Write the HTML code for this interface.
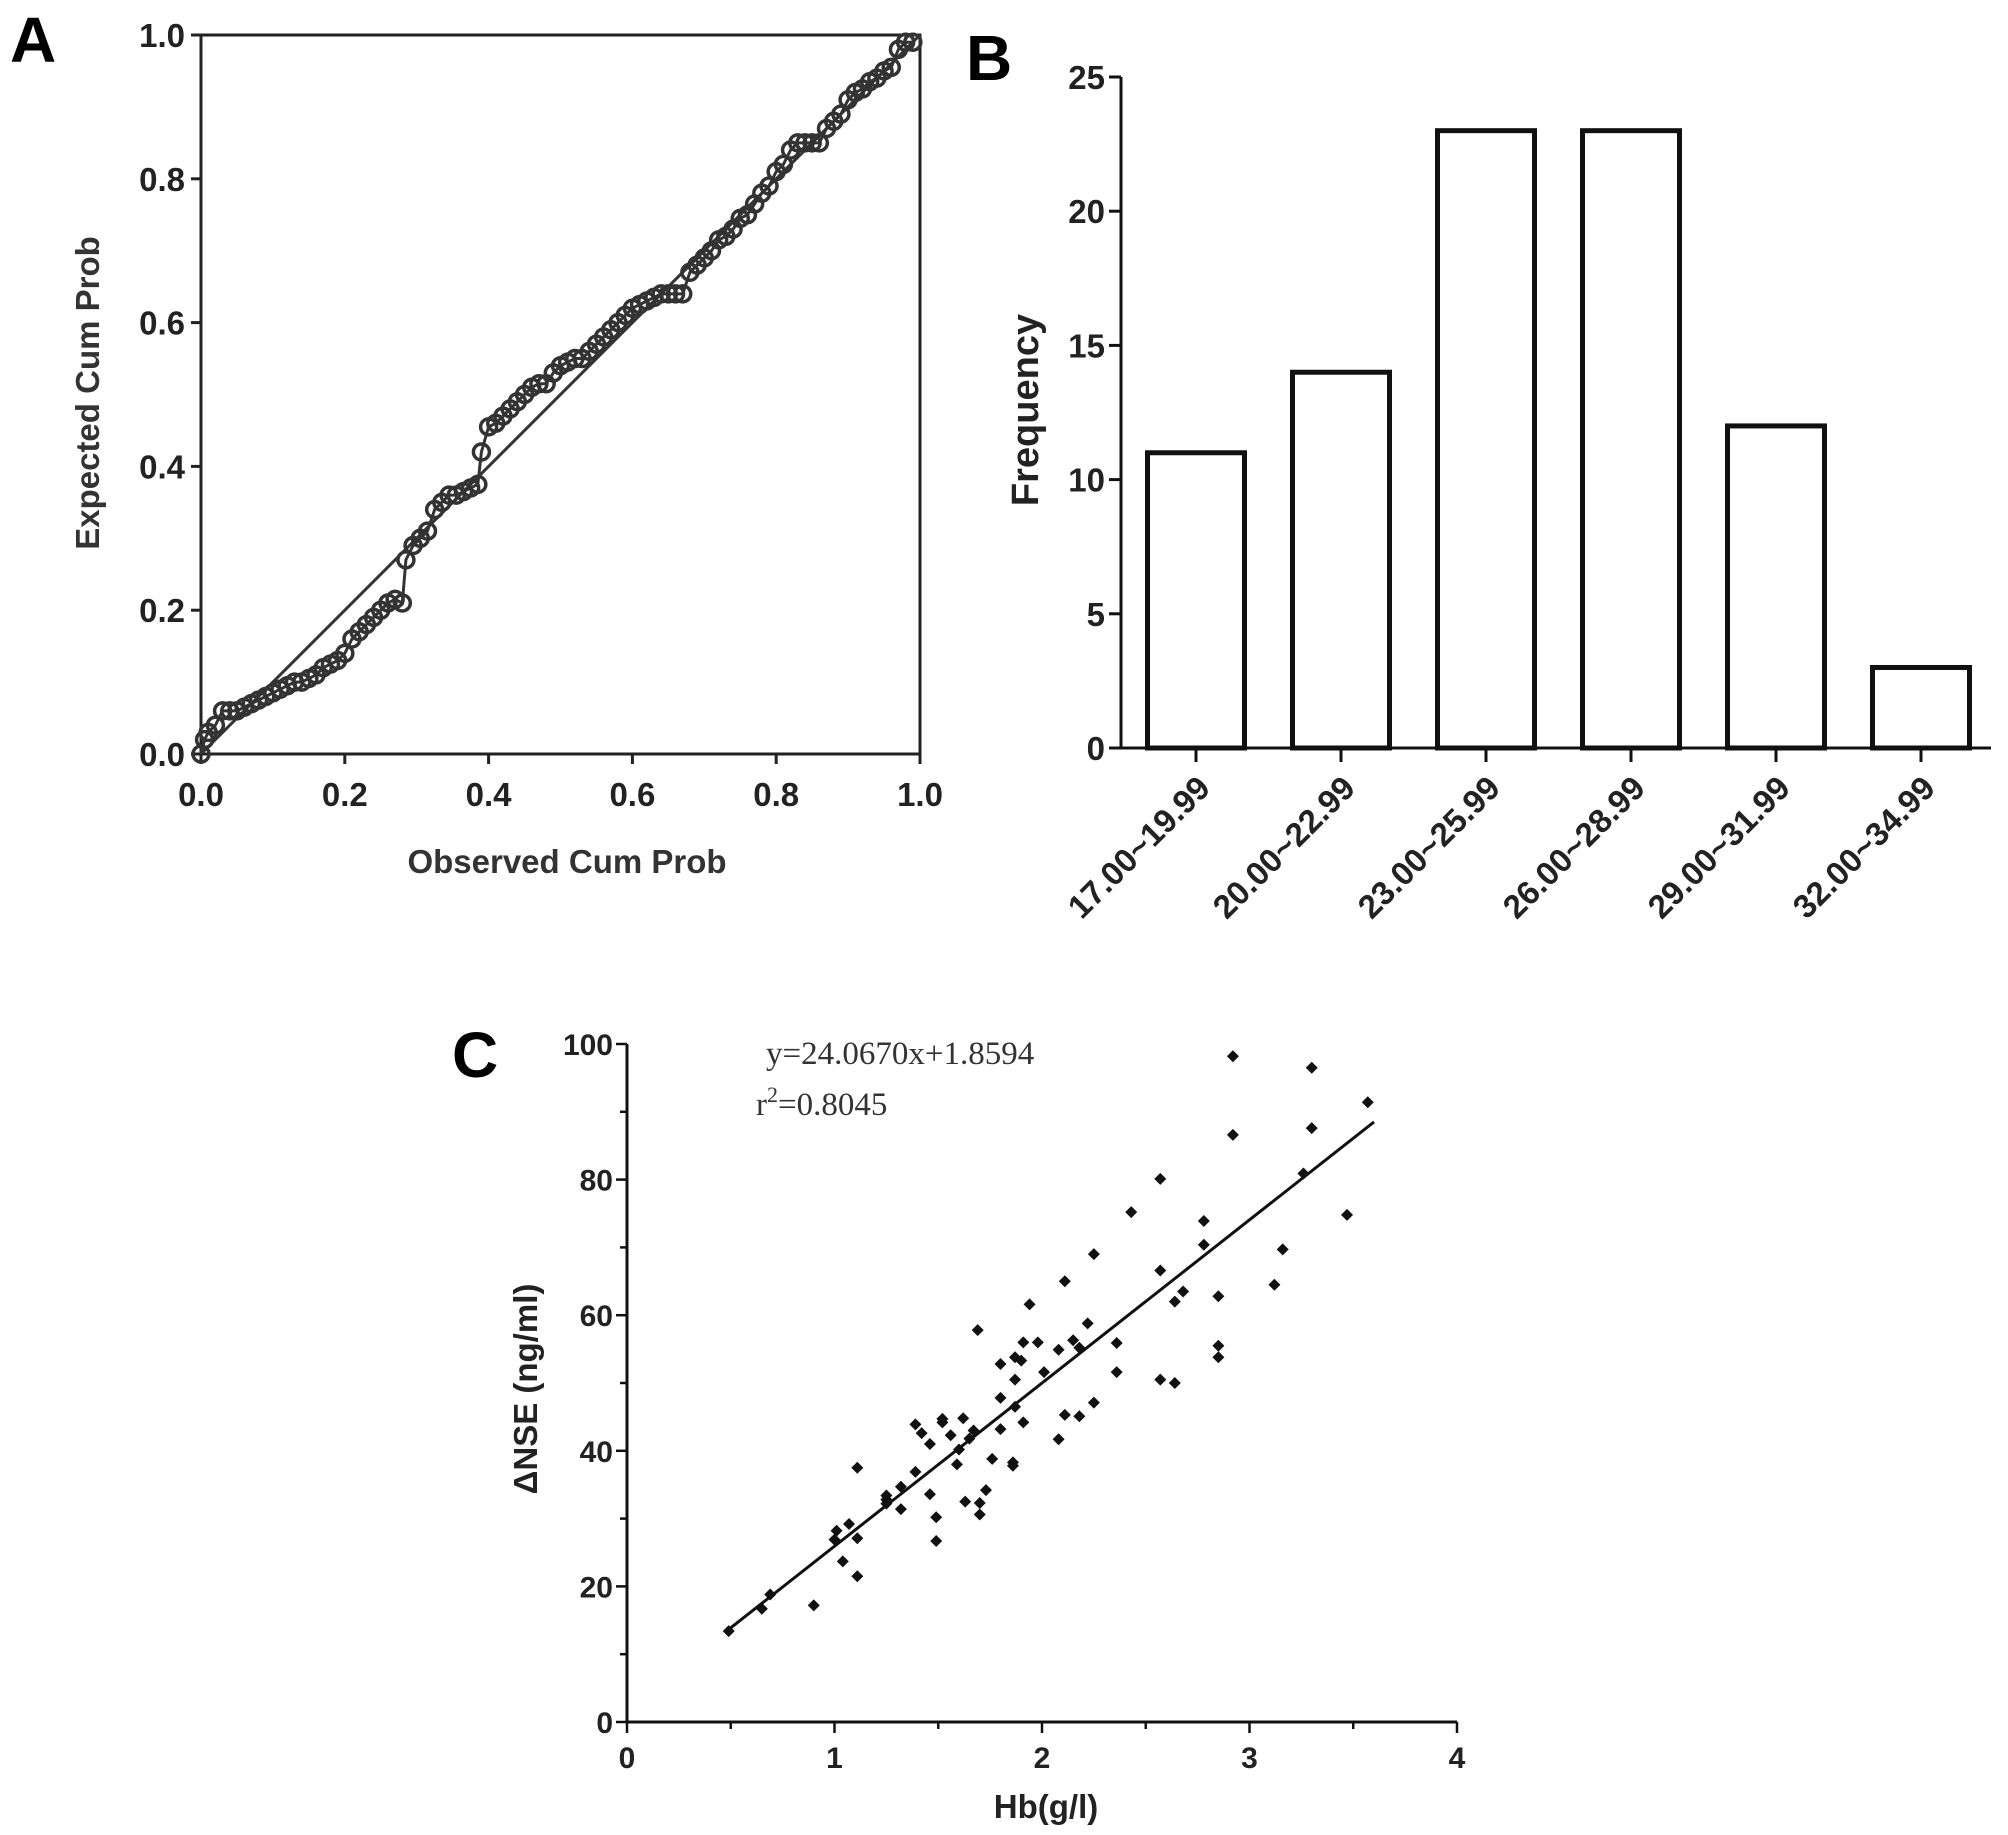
<!DOCTYPE html>
<html><head><meta charset="utf-8"><style>
html,body{margin:0;padding:0;background:#fff;}
svg{display:block;font-family:"Liberation Sans",Arial,sans-serif;}
</style></head><body>
<svg id="fig" width="2008" height="1835" viewBox="0 0 2008 1835" xmlns="http://www.w3.org/2000/svg">
<g id="pa"></g>
<g id="pb"></g>
<g id="pc"></g>
</svg>
<script>
// Panel A data (P-P plot)
const ppObserved = [0,0.005,0.01,0.02,0.03,0.04,0.05,0.06,0.07,0.08,0.09,0.10,0.11,0.12,0.13,0.14,0.15,0.16,0.17,0.18,0.19,0.20,0.21,0.22,0.23,0.24,0.25,0.26,0.27,0.28,0.285,0.295,0.305,0.315,0.325,0.335,0.345,0.355,0.365,0.375,0.385,0.39,0.40,0.41,0.42,0.43,0.44,0.45,0.46,0.47,0.48,0.49,0.50,0.51,0.52,0.53,0.54,0.55,0.56,0.57,0.58,0.59,0.60,0.61,0.62,0.63,0.64,0.65,0.66,0.67,0.68,0.69,0.70,0.71,0.72,0.73,0.74,0.75,0.76,0.77,0.78,0.79,0.80,0.81,0.82,0.83,0.84,0.85,0.86,0.87,0.88,0.89,0.90,0.91,0.92,0.93,0.94,0.95,0.96,0.97,0.98,0.99];
const ppExpected = [0.0,0.02,0.03,0.04,0.06,0.06,0.06,0.065,0.07,0.075,0.08,0.085,0.09,0.095,0.10,0.10,0.105,0.11,0.12,0.125,0.13,0.14,0.16,0.17,0.18,0.19,0.20,0.21,0.215,0.21,0.27,0.29,0.30,0.31,0.34,0.35,0.36,0.36,0.365,0.37,0.375,0.42,0.455,0.46,0.47,0.48,0.49,0.50,0.51,0.515,0.515,0.53,0.54,0.545,0.55,0.55,0.56,0.57,0.58,0.59,0.60,0.61,0.62,0.625,0.63,0.635,0.64,0.64,0.64,0.64,0.67,0.68,0.69,0.70,0.715,0.72,0.73,0.745,0.75,0.765,0.78,0.79,0.81,0.82,0.84,0.85,0.85,0.85,0.85,0.87,0.88,0.89,0.91,0.92,0.925,0.935,0.94,0.95,0.955,0.98,0.99,0.99];
const ppTicks = [0,0.2,0.4,0.6,0.8,1.0];
const ppTickLabels = ["0.0","0.2","0.4","0.6","0.8","1.0"];
// Panel B data
const histCategories = ["17.00~19.99","20.00~22.99","23.00~25.99","26.00~28.99","29.00~31.99","32.00~34.99"];
const histValues = [11,14,23,23,12,3];
const histTicks = [0,5,10,15,20,25];
// Panel C data
const hbValues = [0.49,0.65,0.69,0.90,1.00,1.01,1.04,1.07,1.11,1.11,1.11,1.25,1.25,1.25,1.32,1.32,1.39,1.39,1.42,1.46,1.46,1.49,1.49,1.52,1.52,1.56,1.59,1.60,1.62,1.63,1.65,1.67,1.69,1.70,1.70,1.73,1.76,1.80,1.80,1.80,1.86,1.86,1.87,1.87,1.87,1.90,1.91,1.91,1.94,1.98,2.01,2.08,2.08,2.11,2.11,2.15,2.18,2.18,2.22,2.25,2.25,2.36,2.36,2.43,2.57,2.57,2.57,2.64,2.64,2.68,2.78,2.78,2.85,2.85,2.85,2.92,2.92,3.12,3.16,3.26,3.30,3.30,3.47,3.57];
const nseValues = [13.4,16.7,18.8,17.2,26.9,28.2,23.7,29.2,37.5,27.1,21.5,32.8,33.4,32.2,34.7,31.4,36.9,43.9,42.6,41.0,33.6,30.2,26.7,44.7,44.2,42.3,38.0,40.2,44.8,32.5,41.8,43.0,57.8,32.3,30.6,34.2,38.8,52.8,47.8,43.2,38.3,37.8,50.5,46.5,53.8,53.3,56.0,44.2,61.6,56.0,51.6,54.9,41.7,65.0,45.3,56.3,55.2,45.1,58.8,69.0,47.1,55.9,51.6,75.2,80.1,66.6,50.5,62.0,50.0,63.5,73.9,70.4,62.8,55.5,53.8,98.2,86.6,64.5,69.7,80.9,96.5,87.6,74.8,91.4];
const regSlope = 24.067, regIntercept = 1.8594;
const regRange = [0.49,3.6];
const cxTicks = [0,1,2,3,4];
const cyTicks = [0,20,40,60,80,100];

const NS="http://www.w3.org/2000/svg";
function mk(parent,tag,attrs,text){const e=document.createElementNS(NS,tag);for(const k in attrs)e.setAttribute(k,attrs[k]);if(text!==undefined)e.textContent=text;parent.appendChild(e);return e;}

// ---------- Panel A ----------
(function(){
const g=document.getElementById('pa');
const L=201,R=920,T=35,B=754;
const sx=v=>L+v*(R-L), sy=v=>B-v*(B-T);
let t=mk(g,'text',{x:10,y:62,'font-size':64,'font-weight':'bold'},'A');


let fr=mk(g,'rect',{x:L,y:T,width:R-L,height:B-T,fill:'none',stroke:'#222','stroke-width':3});


ppTicks.forEach((v,i)=>{
  mk(g,'line',{x1:L-10,x2:L,y1:sy(v),y2:sy(v),stroke:'#222','stroke-width':3});
  mk(g,'line',{x1:sx(v),x2:sx(v),y1:B,y2:B+10,stroke:'#222','stroke-width':3});
  let yl=mk(g,'text',{x:L-16,y:sy(v)+12,'text-anchor':'end','font-size':33,'font-weight':'bold',fill:'#222'},ppTickLabels[i]);
  
  
  let xl=mk(g,'text',{x:sx(v),y:B+52,'text-anchor':'middle','font-size':33,'font-weight':'bold',fill:'#222'},ppTickLabels[i]);
  
  
});
let ref=mk(g,'line',{x1:sx(0),y1:sy(0),x2:sx(1),y2:sy(1),stroke:'#333','stroke-width':3});


let d='';
ppObserved.forEach((v,i)=>{d+=(i?'L':'M')+sx(v)+' '+sy(ppExpected[i]);});
let pl=mk(g,'path',{d:d,fill:'none',stroke:'#333','stroke-width':3});


ppObserved.forEach((v,i)=>{
  const c=mk(g,'circle',{cx:sx(v),cy:sy(ppExpected[i]),r:8,fill:'none',stroke:'#333','stroke-width':3.5});
  
  
});
let xt=mk(g,'text',{x:567,y:873,'text-anchor':'middle','font-size':33,'font-weight':'bold',fill:'#333'},'Observed Cum Prob');


let yt=mk(g,'text',{x:0,y:0,'text-anchor':'middle','font-size':33,'font-weight':'bold',fill:'#333',transform:'translate(99,393) rotate(-90)'},'Expected Cum Prob');


})();

// ---------- Panel B ----------
(function(){
const g=document.getElementById('pb');
const L=1121,R=1991,T=77,B=748,x0=1196,step=145,bw=97,vmax=25;
const sy=v=>B-v/vmax*(B-T);
let t=mk(g,'text',{x:966,y:80,'font-size':64,'font-weight':'bold'},'B');


let ya=mk(g,'line',{x1:L,x2:L,y1:T,y2:B,stroke:'#111','stroke-width':3});


let xa=mk(g,'line',{x1:L-10,x2:R,y1:B,y2:B,stroke:'#111','stroke-width':3});


histTicks.forEach(v=>{
  mk(g,'line',{x1:L-12,x2:L,y1:sy(v),y2:sy(v),stroke:'#111','stroke-width':3});
  let l=mk(g,'text',{x:L-16,y:sy(v)+12,'text-anchor':'end','font-size':33,'font-weight':'bold',fill:'#222'},String(v));
  
  
});
histValues.forEach((v,i)=>{
  const cx=x0+i*step;
  const r=mk(g,'rect',{x:cx-bw/2,y:sy(v),width:bw,height:B-sy(v),fill:'#fff',stroke:'#111','stroke-width':5});
  
  
  mk(g,'line',{x1:cx,x2:cx,y1:B,y2:B+14,stroke:'#111','stroke-width':3});
  const l=mk(g,'text',{x:0,y:0,'text-anchor':'end','font-size':33,'font-weight':'bold',fill:'#222',transform:`translate(${cx+16},${B+42}) rotate(-45)`},histCategories[i]);
  
  
});
let yt=mk(g,'text',{x:0,y:0,'text-anchor':'middle','font-size':38,'font-weight':'bold',fill:'#222',transform:'translate(1038,410) rotate(-90)'},'Frequency');


})();

// ---------- Panel C ----------
(function(){
const g=document.getElementById('pc');
const L=627,B=1722,xu=207.5,yTop=1044;
const sx=v=>L+v*xu, sy=v=>B-v/100*(B-yTop);
let t=mk(g,'text',{x:452,y:1077,'font-size':64,'font-weight':'bold'},'C');


let ya=mk(g,'line',{x1:L,x2:L,y1:yTop,y2:B,stroke:'#111','stroke-width':3});


let xa=mk(g,'line',{x1:L,x2:sx(4),y1:B,y2:B,stroke:'#111','stroke-width':3});


for(let v=0;v<=100;v+=10){mk(g,'line',{x1:L-(v%20?7:11),x2:L,y1:sy(v),y2:sy(v),stroke:'#111','stroke-width':2.5});}
for(let v=0;v<=4;v+=0.5){mk(g,'line',{x1:sx(v),x2:sx(v),y1:B,y2:B+(v%1?7:11),stroke:'#111','stroke-width':2.5});}
cyTicks.forEach(v=>{
  const l=mk(g,'text',{x:L-14,y:sy(v)+11,'text-anchor':'end','font-size':30,'font-weight':'bold',fill:'#222'},String(v));
  
  
});
cxTicks.forEach(v=>{
  const l=mk(g,'text',{x:sx(v),y:B+46,'text-anchor':'middle','font-size':30,'font-weight':'bold',fill:'#222'},String(v));
  
  
});
let rl=mk(g,'line',{x1:sx(regRange[0]),y1:sy(regSlope*regRange[0]+regIntercept),x2:sx(regRange[1]),y2:sy(regSlope*regRange[1]+regIntercept),stroke:'#111','stroke-width':3});


hbValues.forEach((v,i)=>{
  const x=sx(v),y=sy(nseValues[i]),s=6;
  const p=mk(g,'polygon',{points:`${x},${y-s} ${x+s},${y} ${x},${y+s} ${x-s},${y}`,fill:'#111'});
  
  
});
let eq=mk(g,'text',{x:766,y:1064,'font-size':33,'font-family':'"Liberation Serif",serif',fill:'#333'},'y=24.0670x+1.8594');


let r2=mk(g,'text',{x:756,y:1115,'font-size':33,'font-family':'"Liberation Serif",serif',fill:'#333'});


mk(r2,'tspan',{},'r');
mk(r2,'tspan',{dy:-13,'font-size':22},'2');
mk(r2,'tspan',{dy:13},'=0.8045');
let xt=mk(g,'text',{x:1046,y:1818,'text-anchor':'middle','font-size':33,'font-weight':'bold',fill:'#222'},'Hb(g/l)');


let yt=mk(g,'text',{x:0,y:0,'text-anchor':'middle','font-size':33,'font-weight':'bold',fill:'#222',transform:'translate(537,1389) rotate(-90)'},'ΔNSE (ng/ml)');


})();
</script>
</body></html>
